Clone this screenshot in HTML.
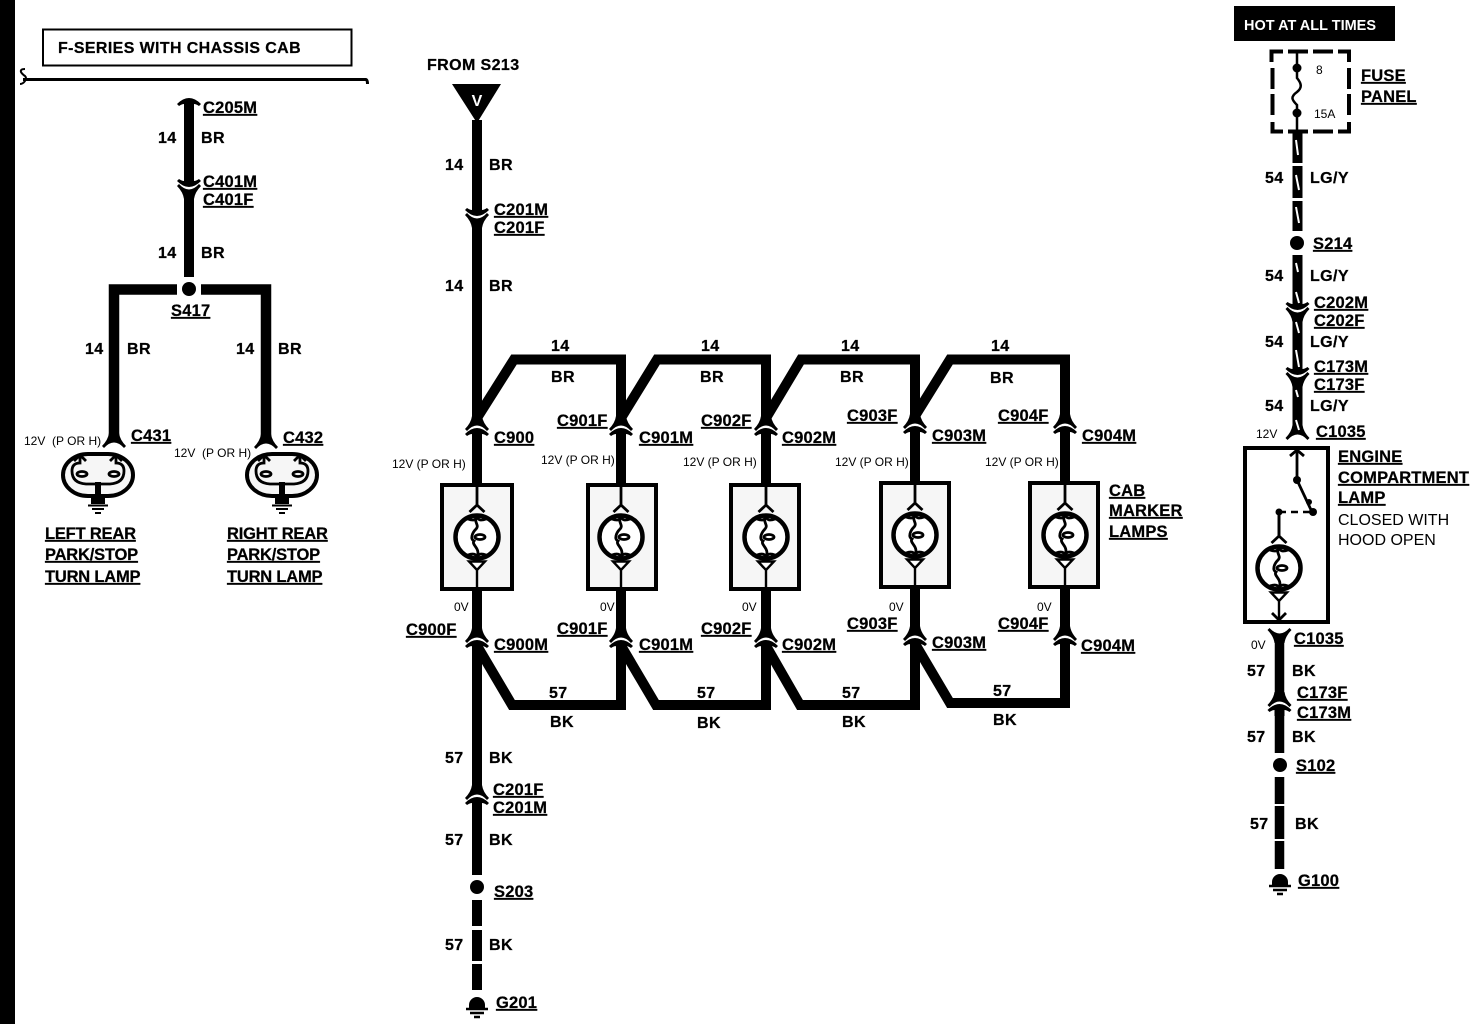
<!DOCTYPE html>
<html><head><meta charset="utf-8"><style>
html,body{margin:0;padding:0;background:#fff;width:1472px;height:1024px;overflow:hidden}
svg{display:block}
text{font-family:"Liberation Sans",sans-serif;fill:#000}
.b{font-weight:bold;font-size:16px;letter-spacing:.4px;stroke:#000;stroke-width:.25}
.u{font-weight:bold;font-size:16.5px;letter-spacing:.2px;text-decoration:underline;stroke:#000;stroke-width:.25}
.n{letter-spacing:-.2px}
.s{font-size:12px}
.r{font-size:16px;letter-spacing:0}
.w{fill:none;stroke:#000;stroke-width:10}
.t{fill:none;stroke:#000;stroke-width:2.8}
</style></head><body>
<svg width="1472" height="1024" viewBox="0 0 1472 1024" xmlns="http://www.w3.org/2000/svg">
<defs>
<g id="fe"><path d="M-12,3 L-10,5 Q0,-6 10,5 L12,3 Q6,-3 5,-10 L-5,-10 Q-6,-3 -12,3Z"/></g>
<g id="ma"><path d="M-12,8 Q-6,2 0,2 Q6,2 12,8 L10,10 Q7,8 5,8 L5,14 L-5,14 L-5,8 Q-7,8 -10,10Z"/></g>
<g id="cu">
<path d="M-11,4 Q0,-4 11,4 L11,7 L-11,7Z" fill="#fff"/>
<use href="#fe"/><use href="#ma"/>
</g>
<g id="lamp">
<path class="t" d="M0,-54 V-31 M-7.5,-25 L0,-32 L7.5,-25"/>
<circle r="21.5" fill="#fff" stroke="#000" stroke-width="4.5"/>
<path class="t" d="M-9,-18 Q-1,-15 0,-21 Q1,-15 9,-18 M-9,18 Q-1,15 0,21 Q1,15 9,18"/>
<path class="t" d="M0,-20 C-4,-15 3,-12 -1,-8 C-5,-4 -7,2 -3,4 C-6,8 4,11 0,20"/>
<ellipse cx="3" cy="0" rx="5" ry="2.5" class="t"/>
<path d="M-8,24.5 L8,24.5 L0,33 Z M0,33 V54" fill="#fff" stroke="#000" stroke-width="2.4"/>
</g>
<g id="oval">
<rect x="-35" y="-21" width="70" height="42" rx="25" ry="21" fill="#f6f6f6" stroke="#000" stroke-width="4"/>
<path class="t" d="M-24,-14 L-18,-20 L-12,-14 M-18,-19 V-12 Q-26,-12 -26,-4 Q-26,8 -12,9 L-3,9 Q0,9 0,14 M24,-14 L18,-20 L12,-14 M18,-19 V-12 Q26,-12 26,-4 Q26,8 12,9 L3,9 Q0,9 0,14"/>
<ellipse cx="-16" cy="-1" rx="5" ry="2.5" class="t"/>
<ellipse cx="16" cy="-1" rx="5" ry="2.5" class="t"/>
<path d="M-3,7 H3 V21 H7 V29 H-7 V21 H-3Z"/>
<path d="M-10,30.5 H10 M-6,34 H6 M-3,38 H3" stroke="#000" stroke-width="2"/>
</g>
<g id="gnd">
<path d="M-8,6 V3 A8,8 0 0 1 8,3 V6 Z"/>
<path d="M-11,7 H11 M-7,11 H7 M-3,15 H3" stroke="#000" stroke-width="2.4"/>
</g>
</defs>

<rect x="0" y="0" width="15" height="1024" fill="#000"/>

<!-- LEFT -->
<rect x="43" y="29.5" width="308.5" height="36" fill="#fff" stroke="#000" stroke-width="2"/>
<text x="58" y="53" class="b" textLength="243" lengthAdjust="spacingAndGlyphs">F-SERIES WITH CHASSIS CAB</text>
<path d="M25,69 Q20,69 21,72 Q22,74 25,76 Q27,78 25,81 Q23,84 20,84" fill="none" stroke="#000" stroke-width="2"/>
<path d="M23,79.5 H366 Q367.5,80 367.5,84" fill="none" stroke="#000" stroke-width="3"/>
<path class="w" d="M189,104 V184 M189,195 V277"/>
<use href="#ma" transform="translate(189,96)"/>
<use href="#cu" transform="translate(189,189) scale(1,-1)"/>
<circle cx="189" cy="289" r="7"/>
<path d="M177,289.5 H114 V441 M201,289.5 H266 V441" fill="none" stroke="#000" stroke-width="10.5"/>
<use href="#fe" transform="translate(114,443)"/>
<use href="#fe" transform="translate(266,444)"/>
<use href="#oval" transform="translate(98,475)"/>
<use href="#oval" transform="translate(282,475)"/>

<text x="158" y="143" class="b">14</text><text x="201" y="143" class="b">BR</text>
<text x="203" y="113" class="u">C205M</text>
<text x="203" y="187" class="u">C401M</text>
<text x="203" y="205" class="u">C401F</text>
<text x="158" y="258" class="b">14</text><text x="201" y="258" class="b">BR</text>
<text x="171" y="316" class="u">S417</text>
<text x="85" y="354" class="b">14</text><text x="127" y="354" class="b">BR</text>
<text x="236" y="354" class="b">14</text><text x="278" y="354" class="b">BR</text>
<text x="24" y="445" class="s">12V&#160;&#160;(P OR H)</text>
<text x="131" y="441" class="u">C431</text>
<text x="174" y="457" class="s">12V&#160;&#160;(P OR H)</text>
<text x="283" y="443" class="u">C432</text>
<text x="45" y="539" class="u n">LEFT REAR</text>
<text x="45" y="560" class="u n">PARK/STOP</text>
<text x="45" y="582" class="u n">TURN LAMP</text>
<text x="227" y="539" class="u n">RIGHT REAR</text>
<text x="227" y="560" class="u n">PARK/STOP</text>
<text x="227" y="582" class="u n">TURN LAMP</text>

<!-- MIDDLE -->
<text x="427" y="70" class="b">FROM S213</text>
<path d="M452,84 H501 L477,123Z"/>
<text x="477" y="106" text-anchor="middle" style="font-weight:bold;font-size:16px;fill:#fff">V</text>
<path class="w" d="M477,120 V212 M477,224 V424"/>
<use href="#cu" transform="translate(477,218) scale(1,-1)"/>

<!-- top bus -->
<g fill="none" stroke="#000" stroke-width="10">
<path d="M477,418 L514,359.5 H621 V420"/>
<path d="M621,418 L657,359.5 H766 V420"/>
<path d="M766,418 L801,359.5 H915 V418"/>
<path d="M915,416 L950,359.5 H1065 V418"/>
<!-- bottom bus -->
<path d="M477,648 V790"/>
<path d="M476,644 L512,705 H621 V650"/>
<path d="M620,644 L656,705 H766 V650"/>
<path d="M765,644 L800,705 H915 V648"/>
<path d="M914,642 L950,703 H1065 V648"/>
<!-- to lamps -->
<path d="M477,432 V485 M621,432 V485 M766,432 V485 M915,430 V483 M1065,430 V483"/>
<path d="M477,589 V632 M621,589 V632 M766,589 V632 M915,587 V630 M1065,587 V630"/>
</g>

<g fill="#f6f6f6" stroke="#000" stroke-width="4">
<rect x="442" y="485" width="70" height="104"/>
<rect x="588" y="485" width="68" height="104"/>
<rect x="731" y="485" width="68" height="104"/>
<rect x="881" y="483" width="68" height="104"/>
<rect x="1030" y="483" width="68" height="104"/>
</g>
<use href="#lamp" transform="translate(477,537)"/>
<use href="#lamp" transform="translate(621,537)"/>
<use href="#lamp" transform="translate(766,537)"/>
<use href="#lamp" transform="translate(915,535)"/>
<use href="#lamp" transform="translate(1065,535)"/>

<use href="#cu" transform="translate(477,426)"/>
<use href="#cu" transform="translate(621,426)"/>
<use href="#cu" transform="translate(766,426)"/>
<use href="#cu" transform="translate(915,424)"/>
<use href="#cu" transform="translate(1065,424)"/>
<use href="#cu" transform="translate(477,638)"/>
<use href="#cu" transform="translate(621,638)"/>
<use href="#cu" transform="translate(766,638)"/>
<use href="#cu" transform="translate(915,636)"/>
<use href="#cu" transform="translate(1065,636)"/>

<use href="#cu" transform="translate(477,795)"/>
<path class="w" d="M477,808 V875 M477,900 V926 M477,930 V961 M477,964 V990"/>
<circle cx="477" cy="887" r="7"/>
<use href="#gnd" transform="translate(477,1002)"/>

<text x="445" y="170" class="b">14</text><text x="489" y="170" class="b">BR</text>
<text x="494" y="215" class="u">C201M</text>
<text x="494" y="233" class="u">C201F</text>
<text x="445" y="291" class="b">14</text><text x="489" y="291" class="b">BR</text>
<text x="551" y="351" class="b">14</text><text x="551" y="382" class="b">BR</text>
<text x="701" y="351" class="b">14</text><text x="700" y="382" class="b">BR</text>
<text x="841" y="351" class="b">14</text><text x="840" y="382" class="b">BR</text>
<text x="991" y="351" class="b">14</text><text x="990" y="383" class="b">BR</text>
<text x="494" y="443" class="u">C900</text>
<text x="557" y="426" class="u">C901F</text><text x="639" y="443" class="u">C901M</text>
<text x="701" y="426" class="u">C902F</text><text x="782" y="443" class="u">C902M</text>
<text x="847" y="421" class="u">C903F</text><text x="932" y="441" class="u">C903M</text>
<text x="998" y="421" class="u">C904F</text><text x="1082" y="441" class="u">C904M</text>
<text x="392" y="468" class="s">12V (P OR H)</text>
<text x="541" y="464" class="s">12V (P OR H)</text>
<text x="683" y="466" class="s">12V (P OR H)</text>
<text x="835" y="466" class="s">12V (P OR H)</text>
<text x="985" y="466" class="s">12V (P OR H)</text>
<text x="1109" y="496" class="u">CAB</text>
<text x="1109" y="516" class="u">MARKER</text>
<text x="1109" y="537" class="u">LAMPS</text>
<text x="454" y="611" class="s">0V</text>
<text x="600" y="611" class="s">0V</text>
<text x="742" y="611" class="s">0V</text>
<text x="889" y="611" class="s">0V</text>
<text x="1037" y="611" class="s">0V</text>
<text x="406" y="635" class="u">C900F</text><text x="494" y="650" class="u">C900M</text>
<text x="557" y="634" class="u">C901F</text><text x="639" y="650" class="u">C901M</text>
<text x="701" y="634" class="u">C902F</text><text x="782" y="650" class="u">C902M</text>
<text x="847" y="629" class="u">C903F</text><text x="932" y="648" class="u">C903M</text>
<text x="998" y="629" class="u">C904F</text><text x="1081" y="651" class="u">C904M</text>
<text x="549" y="698" class="b">57</text><text x="550" y="727" class="b">BK</text>
<text x="697" y="698" class="b">57</text><text x="697" y="728" class="b">BK</text>
<text x="842" y="698" class="b">57</text><text x="842" y="727" class="b">BK</text>
<text x="993" y="696" class="b">57</text><text x="993" y="725" class="b">BK</text>
<text x="445" y="763" class="b">57</text><text x="489" y="763" class="b">BK</text>
<text x="493" y="795" class="u">C201F</text>
<text x="493" y="813" class="u">C201M</text>
<text x="445" y="845" class="b">57</text><text x="489" y="845" class="b">BK</text>
<text x="494" y="897" class="u">S203</text>
<text x="445" y="950" class="b">57</text><text x="489" y="950" class="b">BK</text>
<text x="496" y="1008" class="u">G201</text>

<!-- RIGHT -->
<rect x="1234" y="6" width="161" height="35" fill="#000"/>
<text x="1244" y="30" style="font-weight:bold;font-size:14.5px;fill:#fff" textLength="132" lengthAdjust="spacingAndGlyphs">HOT AT ALL TIMES</text>
<path d="M1271.5,62 V51.5 H1283 M1288,51.5 H1308 M1313,51.5 H1333 M1338,51.5 H1349 V62 M1272.5,68 V89 M1272.5,94 V115 M1272.5,122 V131.5 H1283 M1288,131.5 H1308 M1313,131.5 H1333 M1338,131.5 H1349 V122 M1349,68 V89 M1349,94 V115" fill="none" stroke="#000" stroke-width="4"/>
<path d="M1297,52 V78 C1302,84 1302,88 1297,92 C1290,97 1292,100 1297,105 V132" fill="none" stroke="#000" stroke-width="2.5"/>
<circle cx="1297" cy="68" r="4.5"/><circle cx="1297" cy="113" r="4.5"/>
<text x="1316" y="74" class="s">8</text>
<text x="1314" y="118" class="s">15A</text>
<text x="1361" y="81" class="u">FUSE</text>
<text x="1361" y="102" class="u">PANEL</text>
<path d="M1297.5,132 V163 M1297.5,166 V198 M1297.5,201 V231 M1297.5,255 V306 M1297.5,318 V371 M1297.5,383 V428" fill="none" stroke="#000" stroke-width="10"/>
<use href="#cu" transform="translate(1297.5,312) scale(1,-1)"/>
<use href="#cu" transform="translate(1297.5,377) scale(1,-1)"/>
<use href="#fe" transform="translate(1297.5,435)"/>
<path d="M1296,140 L1298,155 M1296,175 L1299,190 M1296,207 L1299,223 M1296,263 L1298,272 M1296,292 L1299,303 M1296,322 L1299,333 M1296,350 L1299,367 M1296,390 L1298,397 M1296,420 L1299,430" stroke="#fff" stroke-width="2" fill="none"/>
<circle cx="1297" cy="243" r="7"/>

<text x="1265" y="183" class="b">54</text><text x="1310" y="183" class="b">LG/Y</text>
<text x="1313" y="249" class="u">S214</text>
<text x="1265" y="281" class="b">54</text><text x="1310" y="281" class="b">LG/Y</text>
<text x="1314" y="308" class="u">C202M</text>
<text x="1314" y="326" class="u">C202F</text>
<text x="1265" y="347" class="b">54</text><text x="1310" y="347" class="b">LG/Y</text>
<text x="1314" y="372" class="u">C173M</text>
<text x="1314" y="390" class="u">C173F</text>
<text x="1265" y="411" class="b">54</text><text x="1310" y="411" class="b">LG/Y</text>
<text x="1256" y="438" class="s">12V</text>
<text x="1316" y="437" class="u">C1035</text>

<rect x="1245" y="448" width="83" height="174" fill="#fff" stroke="#000" stroke-width="4"/>
<path class="t" d="M1297,450 V480 M1290,456 L1297,450 L1304,456 M1297,480 L1312,512"/>
<circle cx="1297" cy="480" r="4"/><circle cx="1309" cy="502" r="3"/><circle cx="1313" cy="512" r="4"/>
<path d="M1279,512 H1313" stroke="#000" stroke-width="2.5" stroke-dasharray="7 5" fill="none"/>
<circle cx="1279" cy="512" r="3.5"/>
<path class="t" d="M1279,512 V536"/>
<use href="#lamp" transform="translate(1279,568)"/>
<path class="t" d="M1272,613 L1279,620 L1286,613"/>

<use href="#fe" transform="translate(1279.5,633) scale(1,-1)"/>
<path d="M1279.5,640 V695 M1279.5,710 V753 M1279.5,777 V804 M1279.5,806 V839 M1279.5,841 V869" fill="none" stroke="#000" stroke-width="9.5"/>
<use href="#cu" transform="translate(1279.5,702)"/>
<circle cx="1280" cy="765" r="7"/>
<use href="#gnd" transform="translate(1280,879)"/>

<text x="1338" y="462" class="u">ENGINE</text>
<text x="1338" y="483" class="u">COMPARTMENT</text>
<text x="1338" y="503" class="u">LAMP</text>
<text x="1338" y="525" class="r">CLOSED WITH</text>
<text x="1338" y="545" class="r">HOOD OPEN</text>
<text x="1251" y="649" class="s">0V</text>
<text x="1294" y="644" class="u">C1035</text>
<text x="1247" y="676" class="b">57</text><text x="1292" y="676" class="b">BK</text>
<text x="1297" y="698" class="u">C173F</text>
<text x="1297" y="718" class="u">C173M</text>
<text x="1247" y="742" class="b">57</text><text x="1292" y="742" class="b">BK</text>
<text x="1296" y="771" class="u">S102</text>
<text x="1250" y="829" class="b">57</text><text x="1295" y="829" class="b">BK</text>
<text x="1298" y="886" class="u">G100</text>
</svg>
</body></html>
